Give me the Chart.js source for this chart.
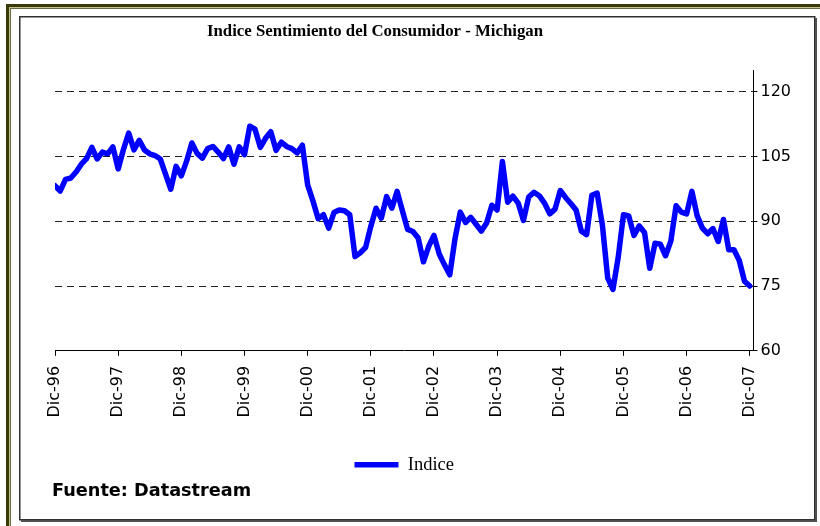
<!DOCTYPE html>
<html>
<head>
<meta charset="utf-8">
<script src="https://cdn.jsdelivr.net/npm/chart.js@4.4.1/dist/chart.umd.min.js"></script>
<style>
html,body{margin:0;padding:0;background:#fff;}
#wrap{position:relative;width:820px;height:526px;}
canvas{display:block;}
</style>
</head>
<body>
<div id="wrap"><canvas id="c" width="820" height="526"></canvas></div>
<script>
// ---- texts ----
const TITLE = 'Indice Sentimiento del Consumidor - Michigan';
const SOURCE = 'Fuente: Datastream';
const SERIES_LABEL = 'Indice';

// ---- tick labels ----
const xTickLabels = ['Dic-96','Dic-97','Dic-98','Dic-99','Dic-00','Dic-01','Dic-02','Dic-03','Dic-04','Dic-05','Dic-06','Dic-07'];
const yTickValues = [60, 75, 90, 105, 120];

// ---- monthly values (Dec-96 .. Dec-07) ----
const v1996 = [98.2];
const v1997 = [97.0, 99.7, 100.0, 101.4, 103.2, 104.5, 107.1, 104.4, 106.0, 105.6, 107.2, 102.1];
const v1998 = [106.6, 110.4, 106.5, 108.7, 106.5, 105.6, 105.2, 104.4, 100.9, 97.4, 102.7, 100.5];
const v1999 = [103.9, 108.1, 105.7, 104.6, 106.8, 107.3, 106.0, 104.5, 107.2, 103.2, 107.2, 105.4];
const v2000 = [112.0, 111.3, 107.1, 109.2, 110.7, 106.4, 108.3, 107.3, 106.8, 105.8, 107.6, 98.4];
const v2001 = [94.7, 90.6, 91.5, 88.4, 92.0, 92.6, 92.4, 91.5, 81.8, 82.7, 83.9, 88.8];
const v2002 = [93.0, 90.7, 95.7, 93.0, 96.9, 92.4, 88.1, 87.6, 86.1, 80.6, 84.2, 86.7];
const v2003 = [82.4, 79.9, 77.6, 86.0, 92.1, 89.7, 90.9, 89.3, 87.7, 89.6, 93.7, 92.6];
const v2004 = [103.8, 94.4, 95.8, 94.2, 90.2, 95.6, 96.7, 95.9, 94.2, 91.7, 92.8, 97.1];
const v2005 = [95.5, 94.1, 92.6, 87.7, 86.9, 96.0, 96.5, 89.1, 76.9, 74.2, 81.6, 91.5];
const v2006 = [91.2, 86.7, 88.9, 87.4, 79.1, 84.9, 84.7, 82.0, 85.4, 93.6, 92.1, 91.7];
const v2007 = [96.9, 91.3, 88.4, 87.1, 88.3, 85.3, 90.4, 83.4, 83.4, 80.9, 76.1, 75.0];

const values = [].concat(v1996, v1997, v1998, v1999, v2000, v2001, v2002, v2003, v2004, v2005, v2006, v2007);
const points = values.map((v, i) => ({x: i, y: v}));

// frame + title/source plugin
const decor = {
  id: 'decor',
  beforeDraw(chart) {
    const ctx = chart.ctx;
    ctx.save();
    ctx.fillStyle = '#ffffff';
    ctx.fillRect(0, 0, chart.width, chart.height);
    // olive outer frame (left + top)
    ctx.fillStyle = '#3a3a08';
    ctx.fillRect(6, 4, 3, chart.height);
    ctx.fillRect(6, 4, chart.width, 3);
    ctx.fillStyle = '#c4c494';
    ctx.fillRect(9, 7, 1, chart.height);
    ctx.fillRect(9, 7, chart.width, 1);
    ctx.fillStyle = '#6a6a40';
    ctx.fillRect(10, 8, 1, chart.height);
    ctx.fillRect(10, 8, chart.width, 1);
    // inner chart frame
    ctx.strokeStyle = '#303030';
    ctx.lineWidth = 1.5;
    ctx.strokeRect(19.75, 16.75, 795, 503);
    ctx.fillStyle = '#505050';
    ctx.fillRect(21, 520, 796, 2);
    ctx.fillRect(815, 18, 2, 504);
    ctx.restore();
  },
  afterDraw(chart) {
    const ctx = chart.ctx;
    ctx.save();
    ctx.fillStyle = '#000';
    ctx.textBaseline = 'alphabetic';
    ctx.textAlign = 'center';
    ctx.font = 'bold 16.8px "Liberation Serif", "Times New Roman", serif';
    ctx.fillText(TITLE, 375, 36);
    ctx.textAlign = 'left';
    ctx.font = 'bold 17.7px "DejaVu Sans", Arial, sans-serif';
    ctx.fillText(SOURCE, 52, 496);
    ctx.restore();
  }
};

new Chart(document.getElementById('c'), {
  type: 'line',
  data: {
    datasets: [{
      label: SERIES_LABEL,
      data: points,
      borderColor: '#0000ff',
      backgroundColor: '#0000ff',
      borderWidth: 5.5,
      pointRadius: 0,
      pointHoverRadius: 0,
      tension: 0,
      fill: false,
      borderJoinStyle: 'round',
      borderCapStyle: 'round'
    }]
  },
  options: {
    responsive: false,
    animation: false,
    devicePixelRatio: 1,
    events: [],
    layout: {padding: {top: 70, left: 55, right: 26, bottom: 42}},
    plugins: {
      title: {display: false},
      tooltip: {enabled: false},
      legend: {
        position: 'bottom',
        fullSize: false,
        labels: {
          usePointStyle: true,
          pointStyle: 'line',
          pointStyleWidth: 44,
          padding: 28,
          color: '#000',
          font: {family: '"Liberation Serif", "Times New Roman", serif', size: 18.5}
        }
      }
    },
    scales: {
      x: {
        type: 'linear',
        min: 0,
        max: 132.7,
        afterBuildTicks: s => { s.ticks = xTickLabels.map((l, i) => ({value: i * 12})); },
        ticks: {
          autoSkip: false,
          minRotation: 90,
          maxRotation: 90,
          padding: 10,
          color: '#000',
          font: {family: '"DejaVu Sans", Arial, sans-serif', size: 16},
          callback: (v, i) => xTickLabels[i]
        },
        grid: {drawOnChartArea: false, drawTicks: true, tickLength: 5, tickColor: '#000', tickWidth: 1},
        border: {display: true, color: '#000', width: 1}
      },
      y: {
        position: 'right',
        min: 60,
        max: 125,
        afterBuildTicks: s => { s.ticks = yTickValues.map(v => ({value: v})); },
        ticks: {
          padding: 3,
          color: '#000',
          font: {family: '"DejaVu Sans", Arial, sans-serif', size: 16},
          callback: v => String(v)
        },
        grid: {
          color: c => (c.tick && c.tick.value === 60) ? 'rgba(0,0,0,0)' : '#222',
          lineWidth: 1,
          tickLength: 4,
          tickColor: '#000',
          tickWidth: 1
        },
        border: {display: true, color: '#000', width: 1, dash: [7, 5]}
      }
    }
  },
  plugins: [decor]
});
</script>
</body>
</html>
